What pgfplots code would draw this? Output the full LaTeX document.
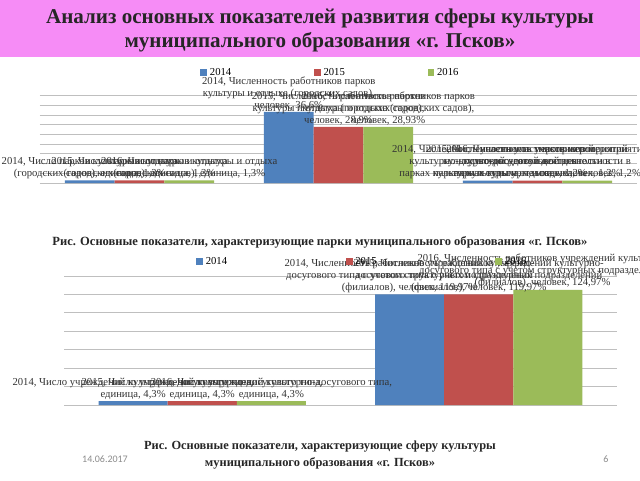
\documentclass[border=0pt]{standalone}
\usepackage{pgfplots}
\pgfplotsset{compat=1.18}
\usepackage{pgfplotstable}
\usepackage{fontspec}
\setmainfont{Liberation Serif}
\newfontfamily\datefont{Carlito}
\definecolor{cblue}{RGB}{79,129,189}
\definecolor{cred}{RGB}{192,80,77}
\definecolor{cgreen}{RGB}{155,187,89}
\definecolor{pinkband}{RGB}{246,140,246}
\protected\def\nl{\\}

\pgfplotstableread[col sep=semicolon]{
x;y;dx;lab
0;1.3;0;2014, Число парков культуры и отдыха\nl(городских садов), единица, 1,3\%
1;36.6;0;2014, Численность работников парков\nl культуры и отдыха (городских садов),\nl человек, 36,6\%
2;1.2;4;2014, Численность участников мероприятий\nl культурно-досуговой деятельности в\nl парках культуры и отдыха, человек, 1,2\%
}\parkA
\pgfplotstableread[col sep=semicolon]{
x;y;dx;lab
0;1.3;0;2015, Число парков культуры и отдыха\nl(городских садов), единица, 1,3\%
1;28.9;0;2015, Численность работников парков\nl культуры и отдыха (городских садов),\nl человек, 28,9\%
2;1.2;-8;2015, Численность участников мероприятий\nl культурно-досуговой деятельности в\nl парках культуры и отдыха, человек, 1,2\%
}\parkB
\pgfplotstableread[col sep=semicolon]{
x;y;dx;lab
0;1.3;0;2016, Число парков культуры и отдыха\nl(городских садов), единица, 1,3\%
1;28.93;0;2016, Численность работников парков\nl культуры и отдыха (городских садов),\nl человек, 28,93\%
2;1.2;-30;2016, Численность участников мероприятий\nl культурно-досуговой деятельности в\nl парках культуры и отдыха, человек, 1,2\%
}\parkC

\pgfplotstableread[col sep=semicolon]{
x;y;dx;lab
0;4.3;0;2014, Число учреждений культурно-досугового типа,\nl единица, 4,3\%
1;119.97;0;2014, Численность работников учреждений культурно-\nl досугового типа с учетом структурных подразделений\nl (филиалов), человек, 119,97\%
}\cultA
\pgfplotstableread[col sep=semicolon]{
x;y;dx;lab
0;4.3;0;2015, Число учреждений культурно-досугового типа,\nl единица, 4,3\%
1;119.97;0;2015, Численность работников учреждений культурно-\nl досугового типа с учетом структурных подразделений\nl (филиалов), человек, 119,97\%
}\cultB
\pgfplotstableread[col sep=semicolon]{
x;y;dx;lab
0;4.3;0;2016, Число учреждений культурно-досугового типа,\nl единица, 4,3\%
1;124.97;-4;2016, Численность работников учреждений культурно-\nl досугового типа с учетом структурных подразделений\nl (филиалов), человек, 124,97\%
}\cultC

\pgfplotsset{
  slidebars/.style={
    scale only axis, anchor=south west,
    ybar=0pt, bar width=0.25,
    legend image code/.code={\fill[##1] (0pt,-2.6pt) rectangle (5.2pt,2.6pt);},
    xmin=-0.5, ymin=0,
    xtick=\empty, yticklabels={},
    ymajorgrids, grid style={gray!50, line width=0.7pt},
    axis line style={draw=none}, major tick length=0pt,
    clip=false,
    point meta=explicit symbolic,
    nodes near coords,
    visualization depends on={\thisrow{dx} \as \dx},
    nodes near coords style={font=\fontsize{8}{9}\selectfont, align=center, text=black!80, xshift=\dx pt, inner sep=1pt},
    legend style={draw=none, fill=none, anchor=center, legend columns=3,
      font=\fontsize{8}{9}\selectfont},
  }
}

\begin{document}
\begin{tikzpicture}
\path[use as bounding box] (0,0) rectangle (480pt,360pt);
\fill[white] (0,0) rectangle (480pt,360pt);
\fill[pinkband] (0,317.25pt) rectangle (480pt,360pt);
\node[font=\bfseries\fontsize{15.8}{18}\selectfont, align=center, text=black!85] at (240pt,337pt)
  {Анализ основных показателей развития сферы культуры\\муниципального образования «г. Псков»};

\begin{axis}[slidebars,
  at={(30pt,222.75pt)}, width=447.75pt, height=65.5pt,
  xmax=2.5, ymax=45, ytick={0,5,...,45},
  legend style={at={(0.487,1.26)}, /tikz/every even column/.append style={column sep=60pt}},
]
\addplot[fill=cblue, draw=none] table[x=x,y=y,meta=lab]{\parkA};
\addplot[fill=cred, draw=none] table[x=x,y=y,meta=lab]{\parkB};
\addplot[fill=cgreen, draw=none] table[x=x,y=y,meta=lab]{\parkC};
\legend{2014,2015,2016}
\end{axis}

\node[font=\bfseries\fontsize{9.4}{12}\selectfont, text=black!85] at (240pt,178pt)
  {Рис. Основные показатели, характеризующие парки муниципального образования «г. Псков»};

\begin{axis}[slidebars,
  at={(48pt,56.25pt)}, width=414.75pt, height=96.75pt,
  xmax=1.5, ymax=140, ytick={0,20,...,140},
  legend style={at={(0.54,1.11)}, /tikz/every even column/.append style={column sep=87pt}},
]
\addplot[fill=cblue, draw=none] table[x=x,y=y,meta=lab]{\cultA};
\addplot[fill=cred, draw=none] table[x=x,y=y,meta=lab]{\cultB};
\addplot[fill=cgreen, draw=none] table[x=x,y=y,meta=lab]{\cultC};
\legend{2014,2015,2016}
\end{axis}

\node[font=\bfseries\fontsize{9.3}{12.75}\selectfont, align=center, text=black!85] at (240pt,19pt)
  {Рис. Основные показатели, характеризующие сферу культуры\\муниципального образования «г. Псков»};
\node[font=\datefont\fontsize{7.5}{9}\selectfont, text=black!45] at (78.75pt,16pt) {14.06.2017};
\node[font=\datefont\fontsize{7.5}{9}\selectfont, text=black!45] at (454.5pt,16pt) {6};
\end{tikzpicture}
\end{document}
